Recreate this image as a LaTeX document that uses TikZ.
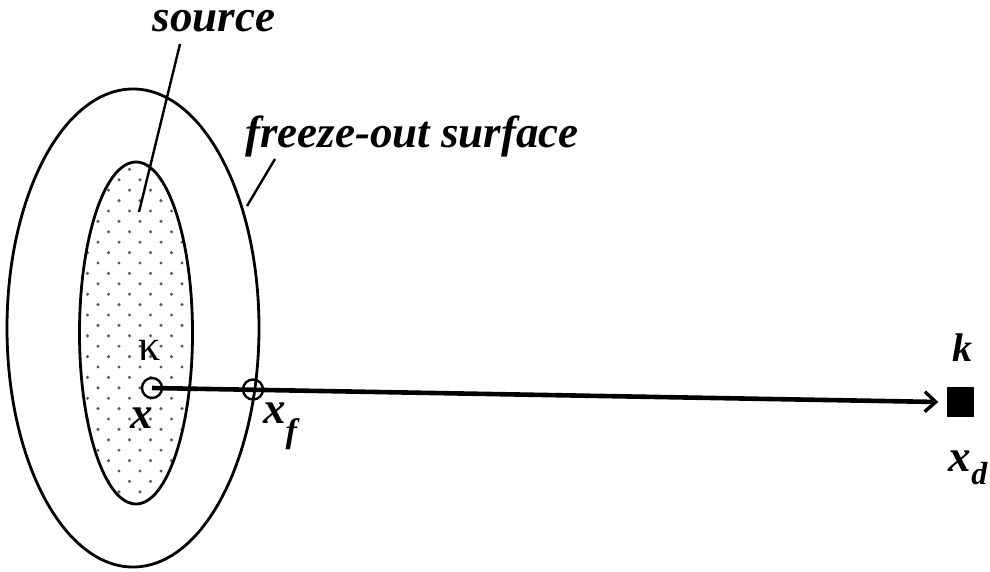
\documentclass[tikz,border=0pt]{standalone}
\usepackage{fontspec}
\setmainfont{Liberation Serif}
\usetikzlibrary{arrows.meta,positioning}

\tikzset{
  lbl/.style={font=\fontsize{45}{48}\selectfont\bfseries\itshape, inner sep=0pt},
  pt/.style={circle, draw, line width=2.4pt, minimum size=20pt, inner sep=0pt},
}

\begin{document}
\begin{tikzpicture}[x=1pt, y=-1pt]
		
		\useasboundingbox (0,0) rectangle (990,572);
		
		% --- dotted source region ---
		\begin{scope}
			\clip (136,333) ellipse [x radius=56.5, y radius=171];
			\foreach \row in {0,...,34} {
				\foreach \col in {0,...,7} {
					\fill[black!65] ({77+21*\col+10.5*mod(\row,2)}, {159+10.4*\row}) circle (1.7);
				}
			}
		\end{scope}
		\draw[line width=2.8pt] (136,333) ellipse [x radius=56.5, y radius=171];
		
		% --- freeze-out surface ---
		\draw[line width=2.8pt] (133,328) ellipse [x radius=126, y radius=239];
		
		% --- labels and pointers ---
		\node[lbl] (source) at (214,21) {source};
		\coordinate (srcA) at (180,44);
		\coordinate (srcB) at (139,212);
		\draw[line width=2.4pt] (srcA) -- (srcB);
		
		\node[lbl] (freeze) at (412,136) {freeze-out surface};
		\coordinate (frzA) at (275,159);
		\coordinate (frzB) at (247,206);
		\draw[line width=2.4pt] (frzA) -- (frzB);
		
		% --- points and trajectory ---
		\node[pt] (xpt) at (152,388) {};
		\node[pt] (xfpt) at (253,389.5) {};
		\node[fill, minimum width=27pt, minimum height=30pt, inner sep=0pt] (det) at (960,402) {};
		\draw[line width=4.6pt, -{Straight Barb[length=11pt,width=20pt,line width=3.4pt]}] (xpt.center) -- ([xshift=-8pt]det.west);
		
		\node[font=\fontsize{44}{48}\selectfont, inner sep=0pt] (kappa) at (150,350) {κ};
		\node[lbl] (xlbl) at (142,418) {x};
		\node[lbl] (xflbl) at (280,426) {x\raisebox{-0.42em}{\fontsize{34}{36}\selectfont f}};
		\node[lbl, font=\fontsize{40}{44}\selectfont\bfseries\itshape] (klbl) at (962,348) {k};
		\node[lbl] (xdlbl) at (968,468) {x\raisebox{-0.3em}{\fontsize{32}{34}\selectfont d}};
		
	\end{tikzpicture}
\end{document}
